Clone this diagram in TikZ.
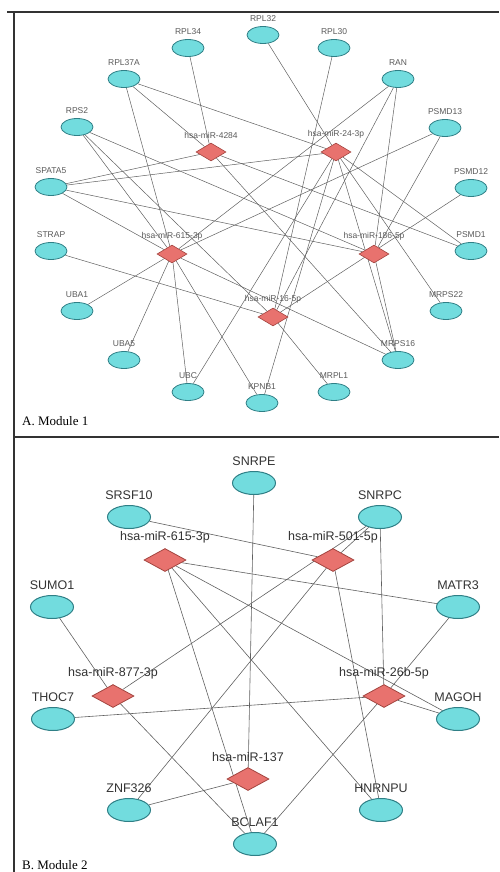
\documentclass[tikz,border=0pt]{standalone}
\usepackage{fontspec}
\setmainfont{Liberation Serif}
\newfontfamily\netfont{Liberation Sans}
\usetikzlibrary{shapes.geometric}
\pgfdeclarelayer{back}
\pgfsetlayers{back,main}
\definecolor{genefill}{HTML}{72DCDE}
\definecolor{generim}{HTML}{2F7F86}
\definecolor{mirfill}{HTML}{E8726E}
\definecolor{mirrim}{HTML}{A3443F}
\definecolor{edgegray}{HTML}{606060}
\definecolor{framegray}{HTML}{333333}

\begin{document}
\begin{tikzpicture}[x=1pt, y=-1pt,
    gene/.style={ellipse, draw=generim, fill=genefill, inner sep=0pt},
    mir/.style={diamond, draw=mirrim, fill=mirfill, inner sep=0pt},
    geneA/.style={gene, line width=0.8pt, minimum width=32pt, minimum height=17pt},
    mirA/.style={mir, line width=0.6pt, minimum width=30pt, minimum height=18pt},
    geneB/.style={gene, line width=1pt, minimum width=43pt, minimum height=23pt},
    mirB/.style={mir, line width=0.8pt, minimum width=42pt, minimum height=23pt},
    labA/.style={font=\netfont\fontsize{8.5}{9}\selectfont, text=black!65, inner sep=0pt, label distance=4pt},
    labB/.style={font=\netfont\fontsize{12.5}{13}\selectfont, text=black!80, inner sep=0pt, label distance=5pt},
    edgeA/.style={draw=edgegray, line width=0.5pt},
    edgeB/.style={draw=edgegray, line width=0.6pt},
    frame/.style={draw=framegray, line width=1.1pt},
    panel/.style={font=\fontsize{13}{14}\selectfont, anchor=base west, inner sep=0pt}
]
\useasboundingbox (0,0) rectangle (499,872);

% frame and panel separator
\draw[frame] (7,12) -- (499,12);
\draw[frame] (14,12) -- (14,872);
\draw[frame] (14,437) -- (499,437);

% ---- Module 1: targets on the circle
\node[geneA, label={[labA]90:RPL32}]  (rpl32)  at (263,35)  {};
\node[geneA, label={[labA]90:RPL30}]  (rpl30)  at (334,48)  {};
\node[geneA, label={[labA]90:RAN}]    (ran)    at (398,79)  {};
\node[geneA, label={[labA]90:PSMD13}] (psmd13) at (445,128) {};
\node[geneA, label={[labA]90:PSMD12}] (psmd12) at (471,188) {};
\node[geneA, label={[labA]90:PSMD1}]  (psmd1)  at (471,251) {};
\node[geneA, label={[labA]90:MRPS22}] (mrps22) at (446,311) {};
\node[geneA, label={[labA]90:MRPS16}] (mrps16) at (398,360) {};
\node[geneA, label={[labA]90:MRPL1}]  (mrpl1)  at (334,392) {};
\node[geneA, label={[labA]90:KPNB1}]  (kpnb1)  at (262,403) {};
\node[geneA, label={[labA]90:UBC}]    (ubc)    at (188,392) {};
\node[geneA, label={[labA]90:UBA5}]   (uba5)   at (124,360) {};
\node[geneA, label={[labA]90:UBA1}]   (uba1)   at (77,311)  {};
\node[geneA, label={[labA]90:STRAP}]  (strap)  at (51,251)  {};
\node[geneA, label={[labA]90:SPATA5}] (spata5) at (51,187)  {};
\node[geneA, label={[labA]90:RPS2}]   (rps2)   at (77,127)  {};
\node[geneA, label={[labA]90:RPL37A}] (rpl37a) at (124,79)  {};
\node[geneA, label={[labA]90:RPL34}]  (rpl34)  at (188,48)  {};

% ---- Module 1: miRNAs inside
\node[mirA, label={[labA]90:hsa-miR-4284}]   (m4284) at (211,152) {};
\node[mirA, label={[labA]90:hsa-miR-24-3p}]  (m24)   at (336,152) {};
\node[mirA, label={[labA]90:hsa-miR-615-3p}] (m615a) at (172,254) {};
\node[mirA, label={[labA]90:hsa-miR-186-5p}] (m186)  at (374,254) {};
\node[mirA, label={[labA]90:hsa-miR-16-5p}]  (m16)   at (273,317) {};

\node[panel] (capA) at (22,425) {A. Module 1};

% ---- Module 2: targets on the circle
\node[geneB, label={[labB]90:SNRPE}]  (snrpe)  at (254,483) {};
\node[geneB, label={[labB]90:SNRPC}]  (snrpc)  at (380,517) {};
\node[geneB, label={[labB]90:MATR3}]  (matr3)  at (458,607) {};
\node[geneB, label={[labB]90:MAGOH}]  (magoh)  at (458,719) {};
\node[geneB, label={[labB]90:HNRNPU}] (hnrnpu) at (381,810) {};
\node[geneB, label={[labB]90:BCLAF1}] (bclaf1) at (255,844) {};
\node[geneB, label={[labB]90:ZNF326}] (znf326) at (129,810) {};
\node[geneB, label={[labB]90:THOC7}]  (thoc7)  at (53,719)  {};
\node[geneB, label={[labB]90:SUMO1}]  (sumo1)  at (52,607)  {};
\node[geneB, label={[labB]90:SRSF10}] (srsf10) at (129,517) {};

% ---- Module 2: miRNAs inside
\node[mirB, label={[labB]90:hsa-miR-615-3p}] (m615b) at (165,560) {};
\node[mirB, label={[labB]90:hsa-miR-501-5p}] (m501)  at (333,560) {};
\node[mirB, label={[labB]90:hsa-miR-877-3p}] (m877)  at (113,696) {};
\node[mirB, label={[labB]90:hsa-miR-26b-5p}] (m26b)  at (384,696) {};
\node[mirB, label={[labB]90:hsa-miR-137}]    (m137)  at (248,779) {};

\node[panel] (capB) at (22,869) {B. Module 2};

% ---- edges, behind the nodes
\begin{pgfonlayer}{back}
% module 1
\draw[edgeA] (m4284) -- (rpl34) (m4284) -- (rpl37a) (m4284) -- (spata5)
             (m4284) -- (mrps16) (m4284) -- (psmd1);
\draw[edgeA] (m24) -- (rpl32) (m24) -- (rpl37a) (m24) -- (spata5)
             (m24) -- (psmd1) (m24) -- (mrps22) (m24) -- (mrps16)
             (m24) -- (ubc) (m24) -- (kpnb1);
\draw[edgeA] (m615a) -- (rps2) (m615a) -- (rpl37a) (m615a) -- (spata5)
             (m615a) -- (ran) (m615a) -- (psmd13) (m615a) -- (uba1)
             (m615a) -- (uba5) (m615a) -- (ubc) (m615a) -- (kpnb1)
             (m615a) -- (mrps16);
\draw[edgeA] (m186) -- (rps2) (m186) -- (spata5) (m186) -- (ran)
             (m186) -- (psmd13) (m186) -- (mrps16);
\draw[edgeA] (m16) -- (rpl30) (m16) -- (ran) (m16) -- (rps2)
             (m16) -- (strap) (m16) -- (mrpl1) (m16) -- (psmd12);
% module 2
\draw[edgeB] (m615b) -- (matr3) (m615b) -- (bclaf1) (m615b) -- (hnrnpu)
             (m615b) -- (magoh);
\draw[edgeB] (m501) -- (srsf10) (m501) -- (snrpc) (m501) -- (znf326)
             (m501) -- (hnrnpu);
\draw[edgeB] (m877) -- (sumo1) (m877) -- (bclaf1) (m877) -- (snrpc);
\draw[edgeB] (m26b) -- (snrpc) (m26b) -- (thoc7) (m26b) -- (magoh)
             (m26b) -- (matr3) (m26b) -- (bclaf1);
\draw[edgeB] (m137) -- (snrpe) (m137) -- (znf326);
\end{pgfonlayer}
\end{tikzpicture}
\end{document}
